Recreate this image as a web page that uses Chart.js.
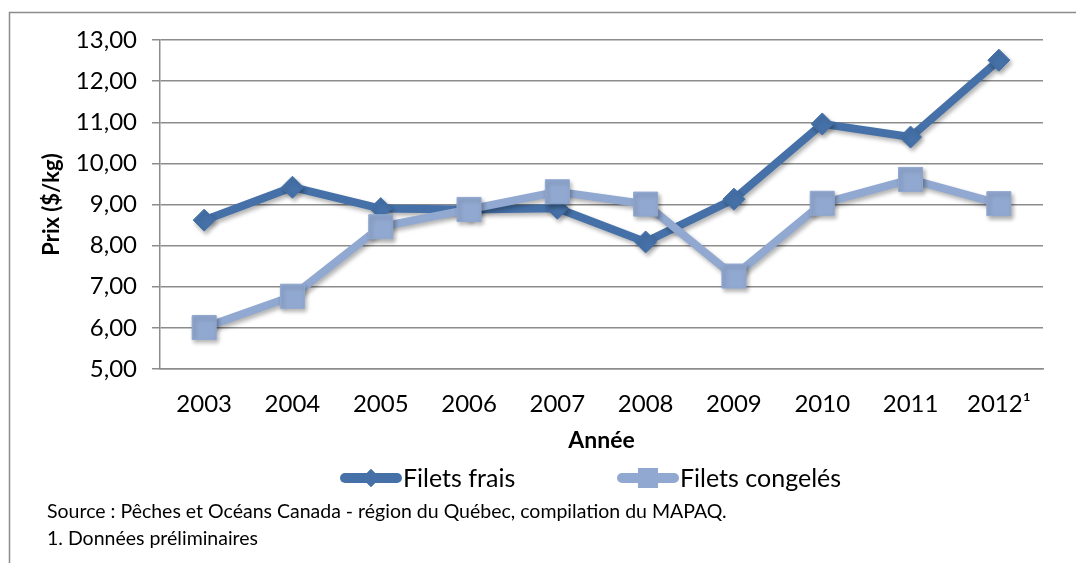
<!DOCTYPE html>
<html>
<head>
<meta charset="utf-8">
<script src="https://cdn.jsdelivr.net/npm/chart.js@4/dist/chart.umd.min.js"></script>
<style>
  html, body { margin: 0; padding: 0; background: #fff; }
  #wrap { width: 1076px; height: 563px; position: relative; }
</style>
</head>
<body>
<div id="wrap"><canvas id="c" width="1076" height="563"></canvas></div>
<script>
const years = ['2003', '2004', '2005', '2006', '2007', '2008', '2009', '2010', '2011', '2012\u00B9'];
const filetsFrais = [8.62, 9.42, 8.90, 8.88, 8.91, 8.09, 9.13, 10.96, 10.64, 12.51];
const filetsCongeles = [6.01, 6.77, 8.46, 8.88, 9.31, 9.01, 7.26, 9.03, 9.61, 9.02];
const yTicks = [5, 6, 7, 8, 9, 10, 11, 12, 13];
const seriesNames = ['Filets frais', 'Filets congelés'];
const yTitle = 'Prix ($/kg)';
const xTitle = 'Année';
const sourceNote = 'Source : Pêches et Océans Canada - région du Québec, compilation du MAPAQ.';
const footNote = '1. Données préliminaires';

const DARK = '#4571A8';
const LIGHT = '#91A8D0';
const GRID = '#8C8C8C';
const FONT = 'Lato, "Open Sans", sans-serif';

const shadowPlugin = {
  id: 'shadow',
  beforeDatasetsDraw(chart) {
    const ctx = chart.ctx;
    ctx.save();
    ctx.shadowColor = 'rgba(0,0,0,0.30)';
    ctx.shadowBlur = 4;
    ctx.shadowOffsetX = 2;
    ctx.shadowOffsetY = 3;
  },
  afterDatasetsDraw(chart) {
    chart.ctx.restore();
  }
};

const decorPlugin = {
  id: 'decor',
  afterDraw(chart) {
    const ctx = chart.ctx;
    const ca = chart.chartArea;
    ctx.save();
    // outer frame (clipped at right/bottom)
    ctx.strokeStyle = GRID;
    ctx.lineWidth = 1.5;
    ctx.beginPath();
    ctx.moveTo(9.5, 563);
    ctx.lineTo(9.5, 12.5);
    ctx.lineTo(1076, 12.5);
    ctx.stroke();

    // y title
    ctx.fillStyle = '#000';
    ctx.font = 'bold 22px ' + FONT;
    ctx.textAlign = 'center';
    ctx.textBaseline = 'middle';
    ctx.save();
    ctx.translate(52, (ca.top + ca.bottom) / 2);
    ctx.rotate(-Math.PI / 2);
    ctx.fillText(yTitle, 0, 0);
    ctx.restore();

    // x title
    ctx.font = 'bold 23px ' + FONT;
    ctx.fillText(xTitle, (ca.left + ca.right) / 2, 441);

    // legend
    const items = [
      { x: 341, text: seriesNames[0], color: DARK, style: 'rectRot', r: 9 },
      { x: 618, text: seriesNames[1], color: LIGHT, style: 'rect', r: 14 }
    ];
    const ly = 478;
    items.forEach(it => {
      ctx.strokeStyle = it.color;
      ctx.lineWidth = 10;
      ctx.lineCap = 'round';
      ctx.beginPath();
      ctx.moveTo(it.x + 4, ly);
      ctx.lineTo(it.x + 56, ly);
      ctx.stroke();
      ctx.fillStyle = it.color;
      Chart.helpers.drawPoint(ctx, { pointStyle: it.style, radius: it.r, borderWidth: 0, rotation: 0 }, it.x + 30, ly);
      ctx.fill();
      ctx.fillStyle = '#000';
      ctx.font = '25px ' + FONT;
      ctx.textAlign = 'left';
      ctx.fillText(it.text, it.x + 62, ly + 1);
    });

    // notes
    ctx.font = '19.5px ' + FONT;
    ctx.textAlign = 'left';
    ctx.fillStyle = '#000';
    ctx.fillText(sourceNote, 47, 512);
    ctx.fillText(footNote, 47, 539);
    ctx.restore();
  }
};

new Chart(document.getElementById('c'), {
  type: 'line',
  data: {
    labels: years,
    datasets: [
      {
        label: seriesNames[0],
        data: filetsFrais,
        borderColor: DARK,
        backgroundColor: DARK,
        borderWidth: 8,
        pointStyle: 'rectRot',
        pointRadius: 11,
        pointBorderWidth: 1,
        pointBorderColor: DARK,
        pointBackgroundColor: DARK,
        tension: 0,
        order: 1
      },
      {
        label: seriesNames[1],
        data: filetsCongeles,
        borderColor: LIGHT,
        backgroundColor: LIGHT,
        borderWidth: 8,
        pointStyle: 'rect',
        pointRadius: 17,
        pointBorderWidth: 1,
        pointBorderColor: LIGHT,
        pointBackgroundColor: LIGHT,
        tension: 0,
        order: 0
      }
    ]
  },
  options: {
    responsive: false,
    animation: false,
    events: [],
    layout: { padding: { top: 40, right: 33, left: 0, bottom: 0 } },
    plugins: {
      legend: { display: false },
      tooltip: { enabled: false },
      title: { display: false }
    },
    scales: {
      x: {
        type: 'category',
        offset: true,
        grid: { display: false, drawTicks: false },
        border: { display: true, color: GRID, width: 1.5 },
        ticks: { color: '#000', font: { family: FONT, size: 24 }, padding: 21, maxRotation: 0, autoSkip: false },
        afterFit(s) { s.height = 563 - 369; }
      },
      y: {
        min: 5,
        max: 13,
        afterBuildTicks(s) { s.ticks = yTicks.map(v => ({ value: v })); },
        grid: { color: GRID, lineWidth: 1.5, drawTicks: true, tickLength: 8, tickColor: GRID },
        border: { display: true, color: GRID, width: 1.5 },
        ticks: {
          color: '#000',
          font: { family: FONT, size: 24 },
          padding: 15,
          callback: v => v.toFixed(2).replace('.', ',')
        },
        afterFit(s) { s.width = 160; }
      }
    }
  },
  plugins: [shadowPlugin, decorPlugin]
});
</script>
</body>
</html>
